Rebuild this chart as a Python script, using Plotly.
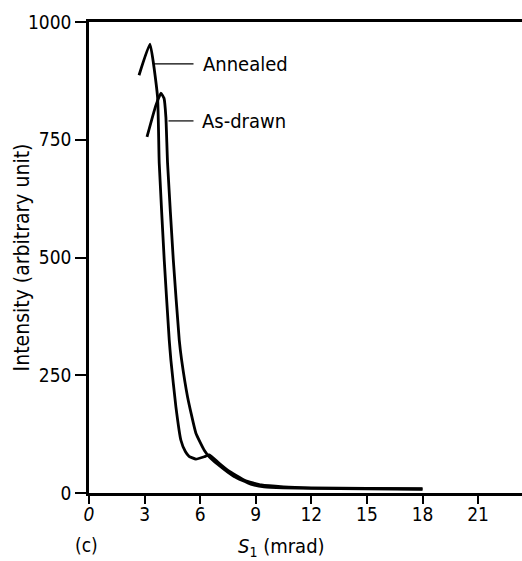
import plotly.graph_objects as go

# Annealed sample
annealed_x = [2.70, 3.29, 3.70, 3.79, 4.06, 4.33, 4.42, 4.69, 4.96, 5.20, 5.40, 5.77, 6.22, 6.49, 7.00, 7.50, 8.40, 9.30, 10.5, 12.0, 15.0, 18.0]
annealed_y = [887, 953, 841, 700, 495, 325, 282, 183, 112, 88, 78, 72, 77, 81, 64, 48, 27, 17, 13, 11, 10, 9]

# As-drawn sample
asdrawn_x = [3.13, 3.60, 3.88, 4.05, 4.15, 4.24, 4.55, 4.87, 5.00, 5.32, 5.77, 6.22, 6.49, 6.94, 7.83, 8.73, 9.45, 10.5, 12.0, 15.0, 18.0]
asdrawn_y = [756, 822, 849, 838, 798, 700, 495, 325, 282, 204, 127, 91, 77, 61, 35, 19, 13, 11, 10, 9, 8]

x_ticks = [0, 3, 6, 9, 12, 15, 18, 21]
x_ticktext = ["<i>0</i>", "3", "6", "9", "12", "15", "18", "21"]
y_ticks = [0, 250, 500, 750, 1000]

FONT = "DejaVu Sans Condensed, DejaVu Sans, Liberation Sans, sans-serif"

fig = go.Figure()
fig.add_trace(go.Scatter(x=annealed_x, y=annealed_y, mode="lines",
                         line=dict(color="black", width=2.8, shape="spline", smoothing=0.4),
                         name="Annealed", showlegend=False))
fig.add_trace(go.Scatter(x=asdrawn_x, y=asdrawn_y, mode="lines",
                         line=dict(color="black", width=2.8, shape="spline", smoothing=0.4),
                         name="As-drawn", showlegend=False))

# leader lines
fig.add_shape(type="line", x0=3.48, x1=5.64, y0=911, y1=911, line=dict(color="black", width=1.2))
fig.add_shape(type="line", x0=4.29, x1=5.64, y0=790, y1=790, line=dict(color="black", width=1.2))

fig.add_annotation(x=6.05, y=911, text="Annealed", showarrow=False, xanchor="left", yanchor="middle",
                   font=dict(family=FONT, size=20, color="black"))
fig.add_annotation(x=6.0, y=790, text="As-drawn", showarrow=False, xanchor="left", yanchor="middle",
                   font=dict(family=FONT, size=20, color="black"))

# axis titles
fig.add_annotation(xref="paper", yref="paper", x=-0.155, y=0.5, text="Intensity (arbitrary unit)",
                   textangle=-90, showarrow=False, xanchor="center", yanchor="middle",
                   font=dict(family=FONT, size=21, color="black"))
fig.add_annotation(xref="x", yref="paper", x=10.4, y=-0.115, text="<i>S</i><sub>1</sub> (mrad)",
                   showarrow=False, xanchor="center", yanchor="middle",
                   font=dict(family=FONT, size=20, color="black"))
fig.add_annotation(xref="paper", yref="paper", x=-0.005, y=-0.11, text="(c)",
                   showarrow=False, xanchor="center", yanchor="middle",
                   font=dict(family=FONT, size=19, color="black"))

fig.update_layout(
    width=522, height=561,
    margin=dict(l=89, r=0, t=22, b=68),
    paper_bgcolor="white", plot_bgcolor="white",
    font=dict(family=FONT, size=19, color="black"),
    xaxis=dict(range=[0, 23.37], tickvals=x_ticks, ticktext=x_ticktext, ticks="outside",
               ticklen=8, tickwidth=2, tickcolor="black", showline=True, linewidth=2.5,
               linecolor="black", mirror=True, showgrid=False, zeroline=False,
               ticklabelstandoff=-6,
               tickfont=dict(family=FONT, size=19, color="black")),
    yaxis=dict(range=[0, 1000], tickvals=y_ticks, ticks="outside", ticklen=11, tickwidth=2,
               tickcolor="black", showline=True, linewidth=2.5, linecolor="black",
               showgrid=False, zeroline=False,
               tickfont=dict(family=FONT, size=19, color="black")),
)

fig.write_html("out.html")
